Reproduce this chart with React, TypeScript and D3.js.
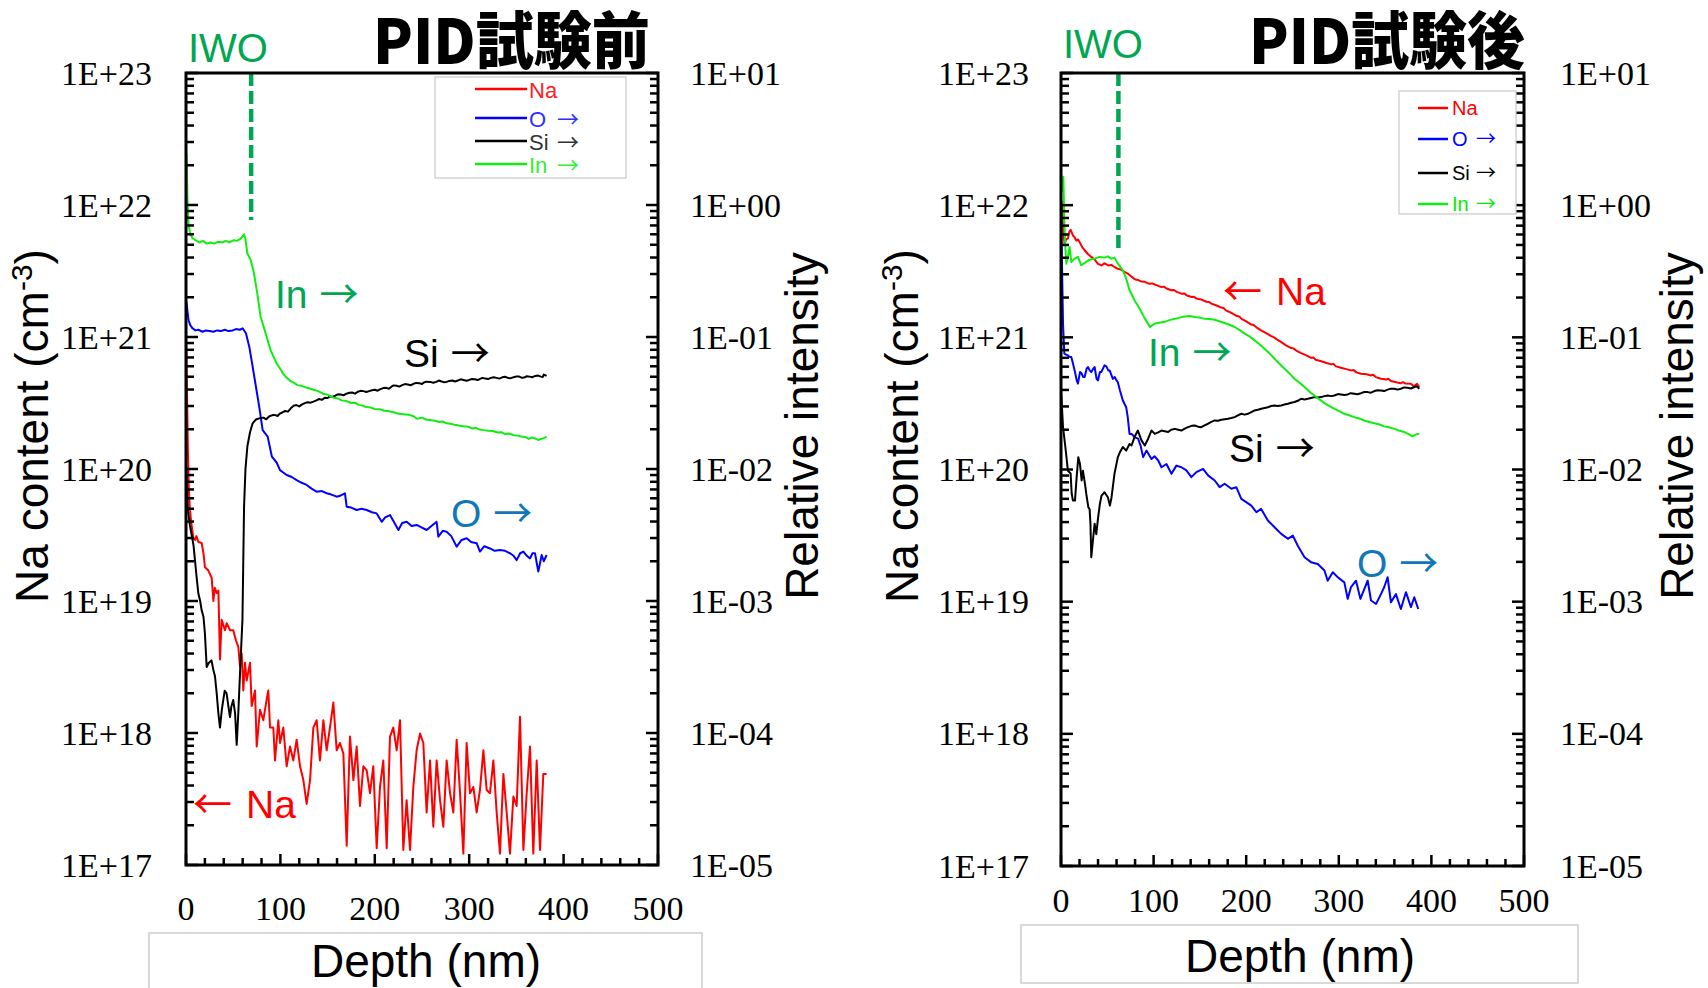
import React from 'react';
import * as d3 from 'd3';

// ---------- shared axis data ----------
const depthDomain: [number, number] = [0, 500];
const depthTickLabels = ['0', '100', '200', '300', '400', '500'];
const naTickLabels = ['1E+17', '1E+18', '1E+19', '1E+20', '1E+21', '1E+22', '1E+23'];
const intTickLabels = ['1E-05', '1E-04', '1E-03', '1E-02', '1E-01', '1E+00', '1E+01'];
const naDomain: [number, number] = [1e17, 1e23];
const intDomain: [number, number] = [1e-5, 1e1];
const seriesNames = ['Na', 'O', 'Si', 'In'];
const titles = ['PID試験前', 'PID試験後'];
const iwoDepths = [69, 62];

// ---------- PID試験前 (before) : [depth nm, value] ----------
const beforeNa: [number, number][] = [
  [0, 1.1e21], [1, 4.0e20], [2, 1.4e20], [3, 7.1e19], [4, 5.1e19], [5.6, 3.9e19], [7.8, 3.0e19], [9.5, 2.9e19],
  [11, 3.1e19], [13.1, 2.8e19], [16.6, 2.75e19], [18.5, 2.3e19], [20.1, 1.8e19], [23.7, 1.7e19], [27.2, 1.5e19],
  [29, 1.0e19], [30.5, 1.26e19], [32.5, 1.15e19], [34.3, 1.2e19], [36, 3.6e18], [37.8, 7.2e18], [41.3, 6.0e18],
  [43.1, 6.8e18], [46.6, 6.0e18], [50.1, 6.0e18], [53, 5.0e18], [55.4, 4.5e18], [57.2, 3.2e18], [59, 4.0e18],
  [60.7, 2.1e18], [62.5, 3.4e18], [64.3, 2.5e18], [67.8, 3.4e18], [69.6, 1.6e18], [73.1, 2.1e18], [74.9, 7.9e17],
  [78.4, 1.5e18], [81.9, 1.25e18], [85.5, 1.8e18], [87.2, 2.1e18], [89, 1.1e18], [92.5, 1.1e18], [94.3, 6.2e17],
  [97.8, 1.25e18], [99.6, 8.4e17], [103.1, 1.1e18], [106.6, 5.6e17], [110.2, 7.9e17], [113.7, 6.2e17], [117.2, 8.9e17],
  [120.8, 5.6e17], [124.3, 4.4e17], [127.8, 2.9e17], [131.4, 4.4e17], [134.9, 1.1e18], [138.4, 1.25e18], [141.9, 6.2e17],
  [145.5, 1.25e18], [149, 7.4e17], [152.5, 1.1e18], [156.1, 1.7e18], [159.6, 7.4e17], [163.1, 8.4e17], [166.7, 7.0e17],
  [170.2, 1.4e17], [173.7, 9.4e17], [177.3, 4.4e17], [180.8, 7.9e17], [184.3, 2.8e17], [187.9, 5.6e17], [191.4, 5.2e17],
  [194.9, 3.5e17], [198.4, 5.6e17], [202, 1.34e17], [205.5, 3.9e17], [209, 6.2e17], [212.6, 1.34e17], [216.1, 9.4e17],
  [219.6, 1.1e18], [223.2, 7.4e17], [226.7, 1.25e18], [230.2, 1.3e17], [233.7, 3.1e17], [237.3, 1.3e17], [240.8, 3.9e17],
  [244.3, 7.4e17], [247.9, 9.9e17], [251.4, 8.4e17], [254.9, 2.5e17], [258.5, 6.2e17], [262, 1.95e17], [265.5, 6.2e17],
  [269.1, 3.1e17], [272.6, 1.95e17], [276.1, 6.2e17], [279.7, 3.5e17], [283.2, 2.5e17], [286.7, 8.9e17], [290.3, 3.5e17],
  [293.8, 1.22e17], [297.3, 8.4e17], [300.8, 3.5e17], [304.4, 3.9e17], [307.9, 2.5e17], [311.4, 3.7e17], [315, 7.4e17],
  [318.5, 3.7e17], [322, 3.5e17], [325.6, 6.2e17], [329.1, 2.5e17], [332.6, 1.22e17], [336.2, 4.9e17], [339.7, 2.5e17],
  [343.2, 1.22e17], [346.8, 3.3e17], [350.3, 2.8e17], [353.8, 1.33e18], [357.4, 1.3e17], [360.9, 3.5e17], [364.4, 7.9e17],
  [367.9, 1.22e17], [371.5, 6.2e17], [375, 1.3e17], [378.5, 4.9e17], [382, 4.9e17],
];
const beforeO: [number, number][] = [
  [0.5, 0.185], [1.5, 0.158], [2.7, 0.1345], [4.5, 0.123], [6.9, 0.1164], [10, 0.1122], [13, 0.1135], [17.6, 0.1096],
  [21, 0.1122], [25, 0.1109], [29, 0.1096], [33, 0.1122], [37, 0.1109], [41, 0.1135], [45, 0.1109], [49.4, 0.1122],
  [53, 0.1148], [57, 0.1135], [60, 0.1164], [63.5, 0.1067], [67, 0.0845], [70.6, 0.0596], [74.1, 0.042], [77.6, 0.0296],
  [81.2, 0.0197], [86.5, 0.0176], [91, 0.0124], [96, 0.0112], [99.6, 0.0098], [103, 0.0094], [106.6, 0.009], [112, 0.0087],
  [117.2, 0.00824], [122, 0.0079], [127.8, 0.00757], [133, 0.0071], [138.4, 0.00673], [144, 0.0068], [149, 0.00655],
  [154, 0.0064], [159.6, 0.00617], [164, 0.0063], [168.4, 0.00655], [170.2, 0.00518], [175, 0.0051], [180.8, 0.00489],
  [186, 0.005], [191.4, 0.00489], [197, 0.0047], [202, 0.00461], [207.3, 0.00398], [211, 0.0043], [216.1, 0.00448],
  [220, 0.004], [225, 0.00345], [229, 0.0039], [233.7, 0.00398], [239, 0.0037], [244.3, 0.00377], [250, 0.0036],
  [254.9, 0.00345], [260, 0.0037], [265.5, 0.00398], [267.3, 0.00307], [272, 0.0034], [276.1, 0.00335], [281, 0.0031],
  [286.7, 0.00258], [292, 0.0029], [297.3, 0.00299], [302, 0.0028], [307.9, 0.00274], [311.4, 0.00237], [316, 0.0026],
  [322, 0.0025], [327, 0.0024], [332.6, 0.00243], [338, 0.0024], [343.2, 0.0023], [347, 0.0022], [350.3, 0.00204],
  [354, 0.0023], [357.4, 0.00237], [361, 0.0022], [364.4, 0.0021], [367, 0.0023], [369.7, 0.0023], [373.2, 0.00167],
  [376.8, 0.00223], [379, 0.002], [382, 0.00223],
];
const beforeSi: [number, number][] = [
  [0.3, 0.01], [2, 0.0049], [4, 0.0038], [6, 0.00316], [8, 0.00263], [9.5, 0.00204], [11, 0.00158], [13, 0.00115],
  [15, 0.001], [16.6, 0.00085], [18.5, 0.00076], [20, 0.000575], [21.9, 0.000316], [24, 0.000339], [27, 0.000355],
  [29, 0.0003], [30.7, 0.000269], [32.5, 0.0002], [34.3, 0.000141], [36, 0.00011], [38, 0.000151], [39.5, 0.000178],
  [41, 0.000209], [43, 0.0002], [45, 0.000158], [46.6, 0.000132], [48, 0.000158], [50, 0.000178], [52, 0.000141],
  [53.7, 0.0000813], [55.4, 0.000141], [57.2, 0.000282], [59.8, 0.000724], [61.5, 0.00519], [63, 0.01], [65, 0.0148],
  [67.8, 0.019], [70.6, 0.0222], [74, 0.0237], [77.6, 0.0242], [82, 0.0245], [85, 0.0238], [88.3, 0.0251], [91, 0.0255],
  [94, 0.0257], [97, 0.0252], [99.5, 0.0263], [102, 0.0268], [105, 0.0275], [108, 0.0272], [111, 0.0288], [114, 0.0301],
  [117, 0.0305], [120, 0.0298], [123, 0.0309], [126, 0.0316], [129, 0.032], [132, 0.0318], [135, 0.0324], [138, 0.0331],
  [141, 0.0339], [144, 0.0334], [147, 0.0347], [150, 0.0345], [152.5, 0.0355], [155, 0.0351], [158, 0.0359], [161, 0.0368],
  [164, 0.0367], [167, 0.0362], [170, 0.0372], [173, 0.0378], [176, 0.038], [179, 0.0372], [182, 0.0385], [185, 0.0391],
  [188, 0.0389], [191, 0.0383], [194, 0.0389], [197, 0.0395], [200, 0.0398], [203, 0.0392], [206, 0.0403], [209, 0.041],
  [212, 0.0412], [215, 0.0406], [218, 0.0422], [220, 0.043], [223, 0.0427], [226, 0.0421], [229, 0.0432], [232, 0.044],
  [235, 0.0437], [238, 0.0431], [241, 0.0442], [244, 0.0449], [247, 0.0447], [250, 0.044], [252, 0.0452], [255, 0.0459],
  [258.5, 0.0457], [262, 0.045], [265, 0.0457], [268, 0.0468], [270, 0.0462], [273, 0.0455], [276, 0.0457], [279, 0.0465],
  [282, 0.0468], [285, 0.046], [288, 0.0468], [291, 0.0478], [294, 0.0473], [297, 0.0466], [300, 0.0473], [303, 0.0481],
  [306, 0.0479], [309, 0.0472], [311, 0.0479], [314, 0.049], [317, 0.0484], [320, 0.048], [323, 0.049], [326, 0.0496],
  [329, 0.049], [332, 0.0484], [335, 0.0495], [338, 0.05], [341, 0.049], [344, 0.0488], [347, 0.0495], [350, 0.0503],
  [353, 0.0501], [356, 0.049], [359, 0.0495], [361, 0.0505], [364, 0.0501], [367, 0.0496], [370, 0.0507], [373, 0.051],
  [376, 0.0501], [378, 0.0498], [379, 0.0519], [382, 0.0507],
];
const beforeIn: [number, number][] = [
  [0.5, 2.45], [1.5, 1.12], [2.7, 0.72], [4, 0.63], [5.2, 0.59], [7, 0.56], [10.5, 0.54], [14, 0.52], [18, 0.535],
  [22, 0.51], [26, 0.52], [30, 0.51], [34, 0.527], [38.6, 0.52], [42, 0.535], [46, 0.522], [50, 0.54], [54, 0.535],
  [58, 0.556], [61.5, 0.6], [63, 0.55], [65, 0.43], [68.6, 0.383], [72, 0.304], [75.5, 0.214], [79, 0.143], [84.3, 0.107],
  [89.6, 0.0794], [96, 0.0631], [100, 0.0572], [103, 0.0525], [106, 0.0498], [110, 0.0468], [114, 0.0452], [118, 0.0432],
  [122, 0.0428], [126, 0.0417], [130, 0.0409], [135, 0.0398], [140, 0.0389], [145, 0.0372], [150, 0.0366], [156, 0.0347],
  [160, 0.0344], [165, 0.0331], [170, 0.0327], [175, 0.0316], [179, 0.0318], [183, 0.0306], [187, 0.0302], [191, 0.0295],
  [195, 0.0293], [200, 0.0285], [205, 0.0284], [210, 0.0276], [215, 0.0274], [220, 0.0269], [225, 0.0262], [230, 0.026],
  [236, 0.0258], [241, 0.0251], [245, 0.024], [250, 0.0245], [255, 0.0236], [260, 0.0234], [264, 0.0232], [268, 0.0227],
  [272, 0.0229], [276, 0.0222], [280, 0.022], [285, 0.0216], [290, 0.0213], [294, 0.0211], [298, 0.021], [303, 0.0203],
  [307, 0.0205], [311, 0.0199], [315, 0.0197], [320, 0.0195], [325, 0.0194], [330, 0.0189], [334, 0.019], [338, 0.0184],
  [342, 0.0186], [347, 0.018], [351, 0.0179], [355, 0.0176], [359, 0.0175], [363, 0.0169], [366, 0.0173], [370, 0.017],
  [373, 0.0166], [376, 0.0169], [379, 0.0171], [382, 0.0176],
];

// ---------- PID試験後 (after) ----------
const afterNa: [number, number][] = [
  [0, 1.12e22], [1.1, 1.0e22], [2.5, 6.3e21], [3.9, 5.1e21], [5.5, 5.5e21], [7.5, 5.6e21], [9, 6.3e21], [10.4, 6.5e21],
  [12.9, 5.9e21], [14.5, 5.75e21], [16.5, 5.4e21], [18.5, 5.5e21], [20.1, 5.25e21], [23, 4.8e21], [25.5, 4.56e21],
  [29, 4.27e21], [32.7, 4.06e21], [36, 3.9e21], [39.9, 3.6e21], [43.8, 3.5e21], [47, 3.63e21], [51, 3.5e21],
  [54.2, 3.53e21], [58.2, 3.39e21], [61.4, 3.3e21], [65.4, 3.24e21], [68.6, 3.13e21], [72.6, 3.02e21], [76, 2.88e21],
  [79.7, 2.75e21], [84, 2.7e21], [87, 2.64e21], [90.5, 2.63e21], [93, 2.58e21], [96, 2.54e21], [98.5, 2.56e21],
  [101.3, 2.51e21], [105, 2.45e21], [108.5, 2.4e21], [111, 2.42e21], [114, 2.34e21], [119, 2.27e21], [122, 2.28e21],
  [125, 2.21e21], [130, 2.14e21], [133, 2.15e21], [136, 2.07e21], [141, 2.02e21], [143.5, 2.03e21], [146, 1.97e21],
  [151.6, 1.93e21], [157, 1.86e21], [160, 1.85e21], [162.4, 1.8e21], [168, 1.74e21], [173, 1.68e21], [175.5, 1.67e21],
  [178, 1.6e21], [184, 1.53e21], [190, 1.45e21], [192.5, 1.44e21], [195, 1.38e21], [200, 1.32e21], [205.5, 1.25e21],
  [208, 1.24e21], [211, 1.19e21], [216, 1.13e21], [222, 1.07e21], [227, 1.02e21], [230, 1.0e21], [233, 9.66e20],
  [238, 9.2e20], [243, 8.7e20], [248.6, 8.3e20], [251, 8.25e20], [254, 7.94e20], [259.3, 7.6e20], [265, 7.3e20],
  [270, 7.0e20], [272.5, 7.05e20], [275, 6.76e20], [281, 6.6e20], [286, 6.43e20], [291.7, 6.24e20], [294, 6.3e20],
  [297, 6.03e20], [302.4, 5.89e20], [308, 5.75e20], [313, 5.62e20], [316, 5.65e20], [319, 5.43e20], [324, 5.3e20],
  [330, 5.25e20], [334.8, 5.15e20], [337, 5.22e20], [340, 5.0e20], [345.5, 4.86e20], [351, 4.79e20], [353.5, 4.86e20],
  [356.3, 4.67e20], [362, 4.57e20], [367, 4.5e20], [369.5, 4.58e20], [372, 4.47e20], [377.9, 4.46e20], [380, 4.32e20],
  [382, 4.3e20], [384.5, 4.45e20], [386.9, 4.2e20],
];
const afterO: [number, number][] = [
  [0.3, 0.776], [1.2, 0.316], [2.2, 0.126], [3.6, 0.0752], [5.5, 0.0741], [7.5, 0.0729], [9.7, 0.071], [11.1, 0.071],
  [13, 0.0631], [14.7, 0.0562], [17, 0.0472], [18.3, 0.0447], [20.5, 0.0546], [22, 0.0537], [24, 0.0501], [25.5, 0.0501],
  [27.7, 0.0579], [29.1, 0.0596], [31, 0.0562], [32.7, 0.0546], [34.8, 0.0579], [36.3, 0.0596], [38.4, 0.0486],
  [39.9, 0.0472], [42, 0.0546], [43.5, 0.0546], [47, 0.0614], [49, 0.0603], [51, 0.0562], [52.5, 0.0562], [56, 0.0485],
  [58, 0.0501], [60, 0.0472], [61.4, 0.0457], [63.6, 0.0398], [66.8, 0.0333], [70.4, 0.0296], [72, 0.0251], [74, 0.0186],
  [76.2, 0.0186], [79.4, 0.0176], [83.3, 0.0171], [86, 0.0151], [88.7, 0.0124], [92.3, 0.0139], [97.7, 0.012],
  [101, 0.0126], [105, 0.0117], [108.5, 0.0104], [113.9, 0.011], [119.3, 0.00927], [124.6, 0.0107], [130, 0.0104],
  [135.4, 0.00984], [140.8, 0.00875], [146.2, 0.00955], [153.4, 0.0101], [158.8, 0.00902], [166, 0.00826], [171.3, 0.00735],
  [176.7, 0.0078], [184, 0.00715], [189.3, 0.00735], [194.7, 0.006], [200, 0.00566], [205.5, 0.00533], [211, 0.00475],
  [216, 0.00504], [223.4, 0.00411], [230.6, 0.00366], [237.8, 0.00326], [245, 0.00299], [250.4, 0.00316], [255.7, 0.00265],
  [263, 0.00217], [270, 0.00199], [277.3, 0.00193], [284.5, 0.00172], [288, 0.00144], [293.5, 0.00167], [298.9, 0.00153],
  [306, 0.0014], [309.6, 0.00105], [313.2, 0.00129], [318.6, 0.00144], [323.3, 0.00105], [327.6, 0.00125], [331.2, 0.00144],
  [334.8, 0.00102], [340.2, 0.00096], [345.5, 0.00114], [349.1, 0.00129], [352.7, 0.00153], [356.3, 0.00099],
  [361.7, 0.00114], [367, 0.00088], [372.5, 0.00118], [377.9, 0.00091], [381.5, 0.00108], [385.8, 0.00088],
];
const afterSi: [number, number][] = [
  [0, 0.0398], [1.2, 0.0282], [2.2, 0.0209], [4.7, 0.0148], [7.5, 0.00977], [10.4, 0.00933], [11.5, 0.00661],
  [12.9, 0.00582], [15.1, 0.00582], [16.9, 0.00875], [18.7, 0.0124], [20.5, 0.011], [22.3, 0.00826], [23.7, 0.00977],
  [25.9, 0.00778], [27.3, 0.00653], [29.5, 0.00519], [30.9, 0.00501], [31.8, 0.00389], [32.7, 0.00217], [34.8, 0.00307],
  [36.3, 0.00389], [38.1, 0.00324], [39.9, 0.00423], [42, 0.0055], [43.8, 0.00635], [47, 0.00673], [50.6, 0.00617],
  [52.8, 0.00533], [54.6, 0.00617], [57.8, 0.00933], [61.4, 0.0124], [63.6, 0.0135], [66.8, 0.0148], [70.4, 0.0139],
  [74, 0.0156], [76.2, 0.0152], [79.4, 0.0176], [83, 0.0197], [86.9, 0.0166], [90.5, 0.0152], [94.1, 0.0171],
  [97.7, 0.0197], [101.3, 0.0186], [105, 0.0191], [108.5, 0.0197], [112, 0.0195], [115.7, 0.0192], [119, 0.02],
  [122.9, 0.0203], [126.5, 0.02], [130, 0.0197], [133.6, 0.0204], [137.2, 0.0209], [141, 0.0214], [144.4, 0.0215],
  [148, 0.0211], [151.6, 0.0209], [155, 0.0216], [158.8, 0.0222], [162.4, 0.0229], [166, 0.0235], [169.6, 0.0234],
  [173.1, 0.0238], [176.7, 0.024], [180.3, 0.0242], [184, 0.0245], [187.5, 0.0249], [191, 0.0257], [194.7, 0.0264],
  [198.3, 0.026], [201.9, 0.0264], [205.5, 0.0272], [209, 0.028], [212.6, 0.0283], [216.2, 0.0288], [220, 0.0292],
  [223.4, 0.0296], [227, 0.0302], [230.6, 0.0305], [234, 0.0302], [237.8, 0.0305], [241.4, 0.031], [245, 0.0314],
  [248.6, 0.032], [252.2, 0.0324], [255.7, 0.0331], [259.3, 0.0343], [263, 0.0339], [266.5, 0.0343], [270, 0.0348],
  [273.7, 0.0353], [277.3, 0.0351], [280.9, 0.0353], [284.5, 0.0359], [288, 0.0363], [291.7, 0.0359], [295.3, 0.0363],
  [299, 0.0372], [302.4, 0.037], [306, 0.0366], [309.6, 0.037], [313, 0.0378], [316.8, 0.0374], [320, 0.0371],
  [324, 0.0378], [327.5, 0.0386], [331.2, 0.0385], [334.8, 0.0381], [338.4, 0.0392], [342, 0.0398], [345.5, 0.0396],
  [349, 0.0392], [352.7, 0.0402], [356.3, 0.0409], [360, 0.0408], [363.5, 0.0402], [367, 0.0408], [370.7, 0.0418],
  [374.3, 0.0416], [378, 0.041], [381.5, 0.0421], [384, 0.0426], [386.9, 0.0408],
];
const afterIn: [number, number][] = [
  [0.5, 1.26], [2.5, 1.64], [3.5, 0.794], [4.7, 0.483], [5.8, 0.361], [7.5, 0.406], [9.3, 0.483], [11.1, 0.372],
  [14.7, 0.394], [18.3, 0.406], [21.9, 0.351], [27.3, 0.372], [30.9, 0.387], [36.3, 0.394], [41.7, 0.406], [47, 0.401],
  [50.6, 0.41], [54.2, 0.394], [57.8, 0.401], [61.4, 0.361], [66.8, 0.321], [70.4, 0.278], [74, 0.227], [79.4, 0.191],
  [84.8, 0.165], [90, 0.141], [96, 0.12], [101.3, 0.127], [106, 0.129], [112, 0.131], [117, 0.135], [122.9, 0.138],
  [128, 0.141], [133.6, 0.144], [139, 0.145], [144.4, 0.1426], [150, 0.141], [155, 0.138], [160, 0.1374], [166, 0.136],
  [171, 0.1324], [176.7, 0.1285], [182, 0.1245], [187.5, 0.1197], [193, 0.1135], [198.3, 0.1067], [204, 0.1012],
  [209, 0.0948], [214, 0.0891], [219.8, 0.082], [225, 0.0759], [230.6, 0.0689], [236, 0.0631], [241.4, 0.0579],
  [247, 0.0531], [252, 0.0486], [258, 0.0452], [263, 0.0421], [268, 0.0389], [273.7, 0.0363], [279, 0.0339],
  [284.5, 0.0318], [290, 0.0302], [295.3, 0.0288], [301, 0.0275], [306, 0.0264], [311, 0.0257], [316.8, 0.0249],
  [322, 0.0243], [327.6, 0.0235], [333, 0.0229], [338.4, 0.0224], [344, 0.0219], [349, 0.0212], [354, 0.0209],
  [360, 0.0203], [365, 0.0197], [370.7, 0.0192], [375, 0.0186], [379.7, 0.0178], [383, 0.0184], [386.9, 0.0186],
];

// ---------- styling / layout (not data) ----------
const SANS = "'Liberation Sans', Arial, sans-serif";
const SERIF = "'Liberation Serif', 'Times New Roman', serif";
const CJK = "'Noto Sans CJK JP', 'Noto Sans', sans-serif";
const GREEN_TXT = '#00a651';
const O_TXT = '#1177bb';
const seriesColors = ['#ff0000', '#0000ff', '#000000', '#10ee10'];

type Cfg = {
  x0: number; x1: number; y0: number; y1: number;
  leftLabelX: number; rightLabelX: number; xLabelBase: number;
  naTitleX: number; intTitleX: number; titleCY: number;
  box: [number, number, number, number]; xTitleX: number; xTitleBase: number;
  titleX: number; titleW: number; titleBase: number;
  iwoBase: number; iwoEndY: number;
  leg: { x: number; y: number; w: number; h: number; l1: number; l2: number; tx: number; ax: number; rows: number[]; fs: number; dy: number; colors: string[] };
  ann: { na: [number, number]; inn: [number, number]; si: [number, number]; o: [number, number] };
};

const cfgs: Cfg[] = [
  {
    x0: 186, x1: 658, y0: 73, y1: 865,
    leftLabelX: 152, rightLabelX: 690, xLabelBase: 920,
    naTitleX: 48, intTitleX: 818, titleCY: 426,
    box: [149, 933, 553, 70], xTitleX: 426, xTitleBase: 977,
    titleX: 373, titleW: 277, titleBase: 64,
    iwoBase: 62, iwoEndY: 220,
    leg: { x: 435, y: 77, w: 191, h: 101, l1: 475, l2: 527, tx: 529, ax: 557, rows: [89, 118, 141, 164], fs: 22, dy: 9, colors: ['#ff2020', '#3030ff', '#333333', '#30f030'] },
    ann: { na: [193, 818], inn: [275, 308], si: [404, 367], o: [451, 527] },
  },
  {
    x0: 1061, x1: 1524, y0: 73, y1: 866,
    leftLabelX: 1029, rightLabelX: 1560, xLabelBase: 912,
    naTitleX: 918, intTitleX: 1693, titleCY: 426,
    box: [1021, 925, 557, 58], xTitleX: 1300, xTitleBase: 972,
    titleX: 1249, titleW: 276, titleBase: 64,
    iwoBase: 58, iwoEndY: 249,
    leg: { x: 1399, y: 91, w: 117, h: 123, l1: 1418, l2: 1448, tx: 1452, ax: 1476, rows: [108, 139, 173, 204], fs: 20, dy: 7, colors: ['#ff0000', '#0000ff', '#000000', '#00ee00'] },
    ann: { na: [1223, 305], inn: [1148, 366], si: [1229, 462], o: [1357, 577] },
  },
];

const panelSeries = [
  [beforeNa, beforeO, beforeSi, beforeIn],
  [afterNa, afterO, afterSi, afterIn],
];

function Panel({ idx }: { idx: number }) {
  const c = cfgs[idx];
  const data = panelSeries[idx];
  const x = d3.scaleLinear().domain(depthDomain).range([c.x0, c.x1]);
  const yNa = d3.scaleLog().domain(naDomain).range([c.y1, c.y0]);
  const yInt = d3.scaleLog().domain(intDomain).range([c.y1, c.y0]);
  const majors = d3.range(17, 24).map((e) => Math.pow(10, e));
  const minors: number[] = [];
  for (let e = 17; e < 23; e++) for (let m = 2; m <= 9; m++) minors.push(m * Math.pow(10, e));
  const xTicks = d3.range(0, 501, 20);
  const clipId = `clip${idx}`;
  const lines = data.map((s, i) => {
    const ys = i === 0 ? yNa : yInt;
    const gen = d3.line<[number, number]>().x((d) => x(d[0])).y((d) => ys(d[1]));
    return <path key={i} d={gen(s) || ''} fill="none" stroke={seriesColors[i]} strokeWidth={2} strokeLinejoin="round" clipPath={`url(#${clipId})`} />;
  });
  const iwoX = x(iwoDepths[idx]);
  const L = c.leg;
  const A = 39;
  return (
    <g>
      <defs>
        <clipPath id={clipId}><rect x={c.x0} y={c.y0} width={c.x1 - c.x0} height={c.y1 - c.y0} /></clipPath>
      </defs>
      {/* title */}
      <text x={c.titleX} y={c.titleBase} fontFamily={CJK} fontWeight={900} fontSize={62} textLength={c.titleW} lengthAdjust="spacingAndGlyphs" fill="#000">{titles[idx]}</text>
      <text x={c.x0 + 2} y={c.iwoBase} fontFamily={SANS} fontSize={40} fill={GREEN_TXT}>IWO</text>

      {/* data */}
      {lines}

      {/* dashed IWO marker */}
      <line x1={iwoX} x2={iwoX} y1={c.y0} y2={c.iwoEndY} stroke={GREEN_TXT} strokeWidth={4.5} strokeDasharray="13,5" />

      {/* ticks */}
      {majors.map((v, i) => (
        <g key={'M' + i}>
          <line x1={c.x0} x2={c.x0 + 12} y1={yNa(v)} y2={yNa(v)} stroke="#000" strokeWidth={2.5} />
          <line x1={c.x1} x2={c.x1 - 12} y1={yNa(v)} y2={yNa(v)} stroke="#000" strokeWidth={2.5} />
          <text x={c.leftLabelX} y={yNa(v) + 11.5} textAnchor="end" fontFamily={SERIF} fontSize={34}>{naTickLabels[i]}</text>
          <text x={c.rightLabelX} y={yNa(v) + 11.5} textAnchor="start" fontFamily={SERIF} fontSize={34}>{intTickLabels[i]}</text>
        </g>
      ))}
      {minors.map((v, i) => (
        <g key={'m' + i}>
          <line x1={c.x0} x2={c.x0 + 8} y1={yNa(v)} y2={yNa(v)} stroke="#000" strokeWidth={2.5} />
          <line x1={c.x1} x2={c.x1 - 8} y1={yNa(v)} y2={yNa(v)} stroke="#000" strokeWidth={2.5} />
        </g>
      ))}
      {xTicks.map((t) => (
        <line key={'x' + t} x1={x(t)} x2={x(t)} y1={c.y1} y2={c.y1 - (t % 100 === 0 ? 11 : 7)} stroke="#000" strokeWidth={2.5} />
      ))}
      {depthTickLabels.map((lab, i) => (
        <text key={'xl' + i} x={x(+lab)} y={c.xLabelBase} textAnchor="middle" fontFamily={SERIF} fontSize={34}>{lab}</text>
      ))}

      {/* frame */}
      <rect x={c.x0} y={c.y0} width={c.x1 - c.x0} height={c.y1 - c.y0} fill="none" stroke="#000" strokeWidth={3} />

      {/* legend */}
      <rect x={L.x} y={L.y} width={L.w} height={L.h} fill="#fff" stroke="#c8c8c8" strokeWidth={1.2} />
      {seriesNames.map((n, i) => (
        <g key={'lg' + i}>
          <line x1={L.l1} x2={L.l2} y1={L.rows[i]} y2={L.rows[i]} stroke={seriesColors[i]} strokeWidth={2.5} />
          <text x={L.tx} y={L.rows[i] + L.dy} fontFamily={SANS} fontSize={L.fs} fill={L.colors[i]}>{n}</text>
          {i > 0 && <text x={L.ax} y={L.rows[i] + L.dy} fontFamily={CJK} fontSize={L.fs} fill={L.colors[i]}>→</text>}
        </g>
      ))}

      {/* annotations */}
      <text x={c.ann.inn[0]} y={c.ann.inn[1]} fontFamily={SANS} fontSize={A} fill={GREEN_TXT}>In<tspan dx={12} fontFamily={CJK}>→</tspan></text>
      <text x={c.ann.si[0]} y={c.ann.si[1]} fontFamily={SANS} fontSize={A} fill="#000">Si<tspan dx={12} fontFamily={CJK}>→</tspan></text>
      <text x={c.ann.o[0]} y={c.ann.o[1]} fontFamily={SANS} fontSize={A} fill={O_TXT}>O<tspan dx={12} fontFamily={CJK}>→</tspan></text>
      <text x={c.ann.na[0]} y={c.ann.na[1]} fontFamily={CJK} fontSize={A} fill="#ff0000">←<tspan dx={14} fontFamily={SANS}>Na</tspan></text>

      {/* axis titles */}
      <text transform={`translate(${c.naTitleX},${c.titleCY}) rotate(-90)`} textAnchor="middle" fontFamily={SANS} fontSize={46}>
        Na content (cm<tspan dy={-16} fontSize={30}>-3</tspan><tspan dy={16}>)</tspan>
      </text>
      <text transform={`translate(${c.intTitleX},${c.titleCY}) rotate(-90)`} textAnchor="middle" fontFamily={SANS} fontSize={46}>
        Relative intensity
      </text>
      <rect x={c.box[0]} y={c.box[1]} width={c.box[2]} height={c.box[3]} fill="#fff" stroke="#c0c0c0" strokeWidth={1.2} />
      <text x={c.xTitleX} y={c.xTitleBase} textAnchor="middle" fontFamily={SANS} fontSize={46}>Depth (nm)</text>
    </g>
  );
}

export default function App() {
  return (
    <svg width={1708} height={988} style={{ position: 'absolute', left: 0, top: 0, background: '#fff' }}>
      <rect x={0} y={0} width={1708} height={988} fill="#fff" />
      <Panel idx={0} />
      <Panel idx={1} />
    </svg>
  );
}
